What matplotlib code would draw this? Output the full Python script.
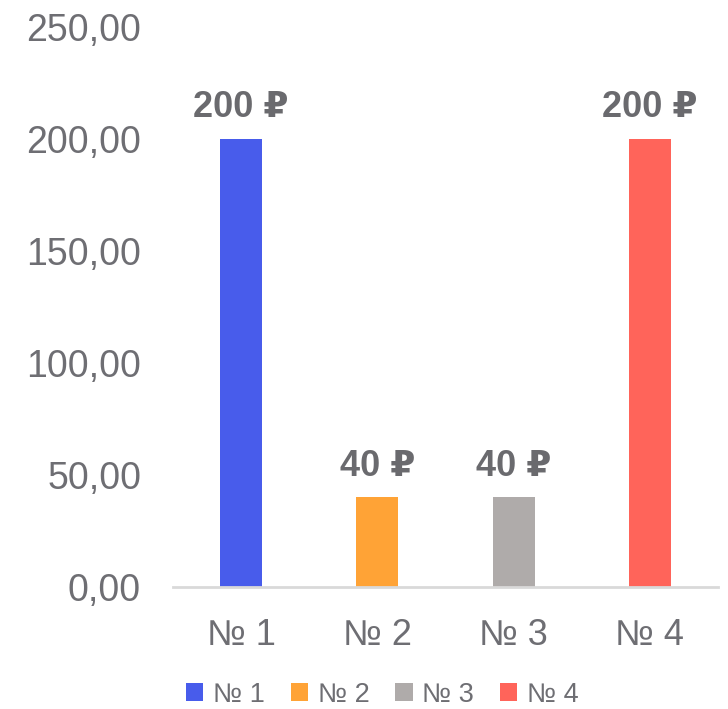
import matplotlib
matplotlib.use("Agg")
import matplotlib.pyplot as plt
from matplotlib.patches import Patch
from matplotlib.ticker import FuncFormatter

plt.rcParams['font.family'] = ['Liberation Sans', 'DejaVu Sans']

categories = ["№ 1", "№ 2", "№ 3", "№ 4"]
values = [200, 40, 40, 200]
value_labels = ["200 ₽", "40 ₽", "40 ₽", "200 ₽"]
colors = ["#485CEB", "#FFA336", "#AFABAA", "#FF645A"]
yticks = [0, 50, 100, 150, 200, 250]

text_color = "#6E6E73"

fig = plt.figure(figsize=(7.28, 7.09), dpi=100)
ax = fig.add_axes([173 / 728, (709 - 587) / 709, (718 - 173) / 728, (587 - 27) / 709])

x = range(len(categories))
ax.bar(x, values, width=0.31, color=colors, zorder=2)

for xi, v, lab in zip(x, values, value_labels):
    ax.annotate(lab, (xi, v), xytext=(0, 10), textcoords="offset points",
                ha="center", va="bottom", fontsize=26, fontweight="bold",
                color="#6A6A6E")

ax.set_xlim(-0.5, 3.5)
ax.set_ylim(0, 250)
ax.set_yticks(yticks)
ax.yaxis.set_major_formatter(FuncFormatter(lambda v, p: f"{v:.2f}".replace(".", ",")))
ax.set_xticks(list(x))
ax.set_xticklabels(categories)

ax.tick_params(axis="y", length=0, pad=23, labelsize=27, labelcolor=text_color)
ax.tick_params(axis="x", length=0, pad=22, labelsize=26, labelcolor=text_color)

for s in ["left", "right", "top"]:
    ax.spines[s].set_visible(False)
ax.spines["bottom"].set_color("#D9D9D9")
ax.spines["bottom"].set_linewidth(2)

handles = [Patch(facecolor=c, edgecolor="none") for c in colors]
fig.legend(handles, categories, loc="center", bbox_to_anchor=(0.525, 0.02),
           ncol=4, frameon=False, fontsize=19.5, labelcolor=text_color,
           handlelength=0.65, handleheight=0.65, handletextpad=0.35,
           columnspacing=0.95)

fig.savefig("out.png", dpi=100)
